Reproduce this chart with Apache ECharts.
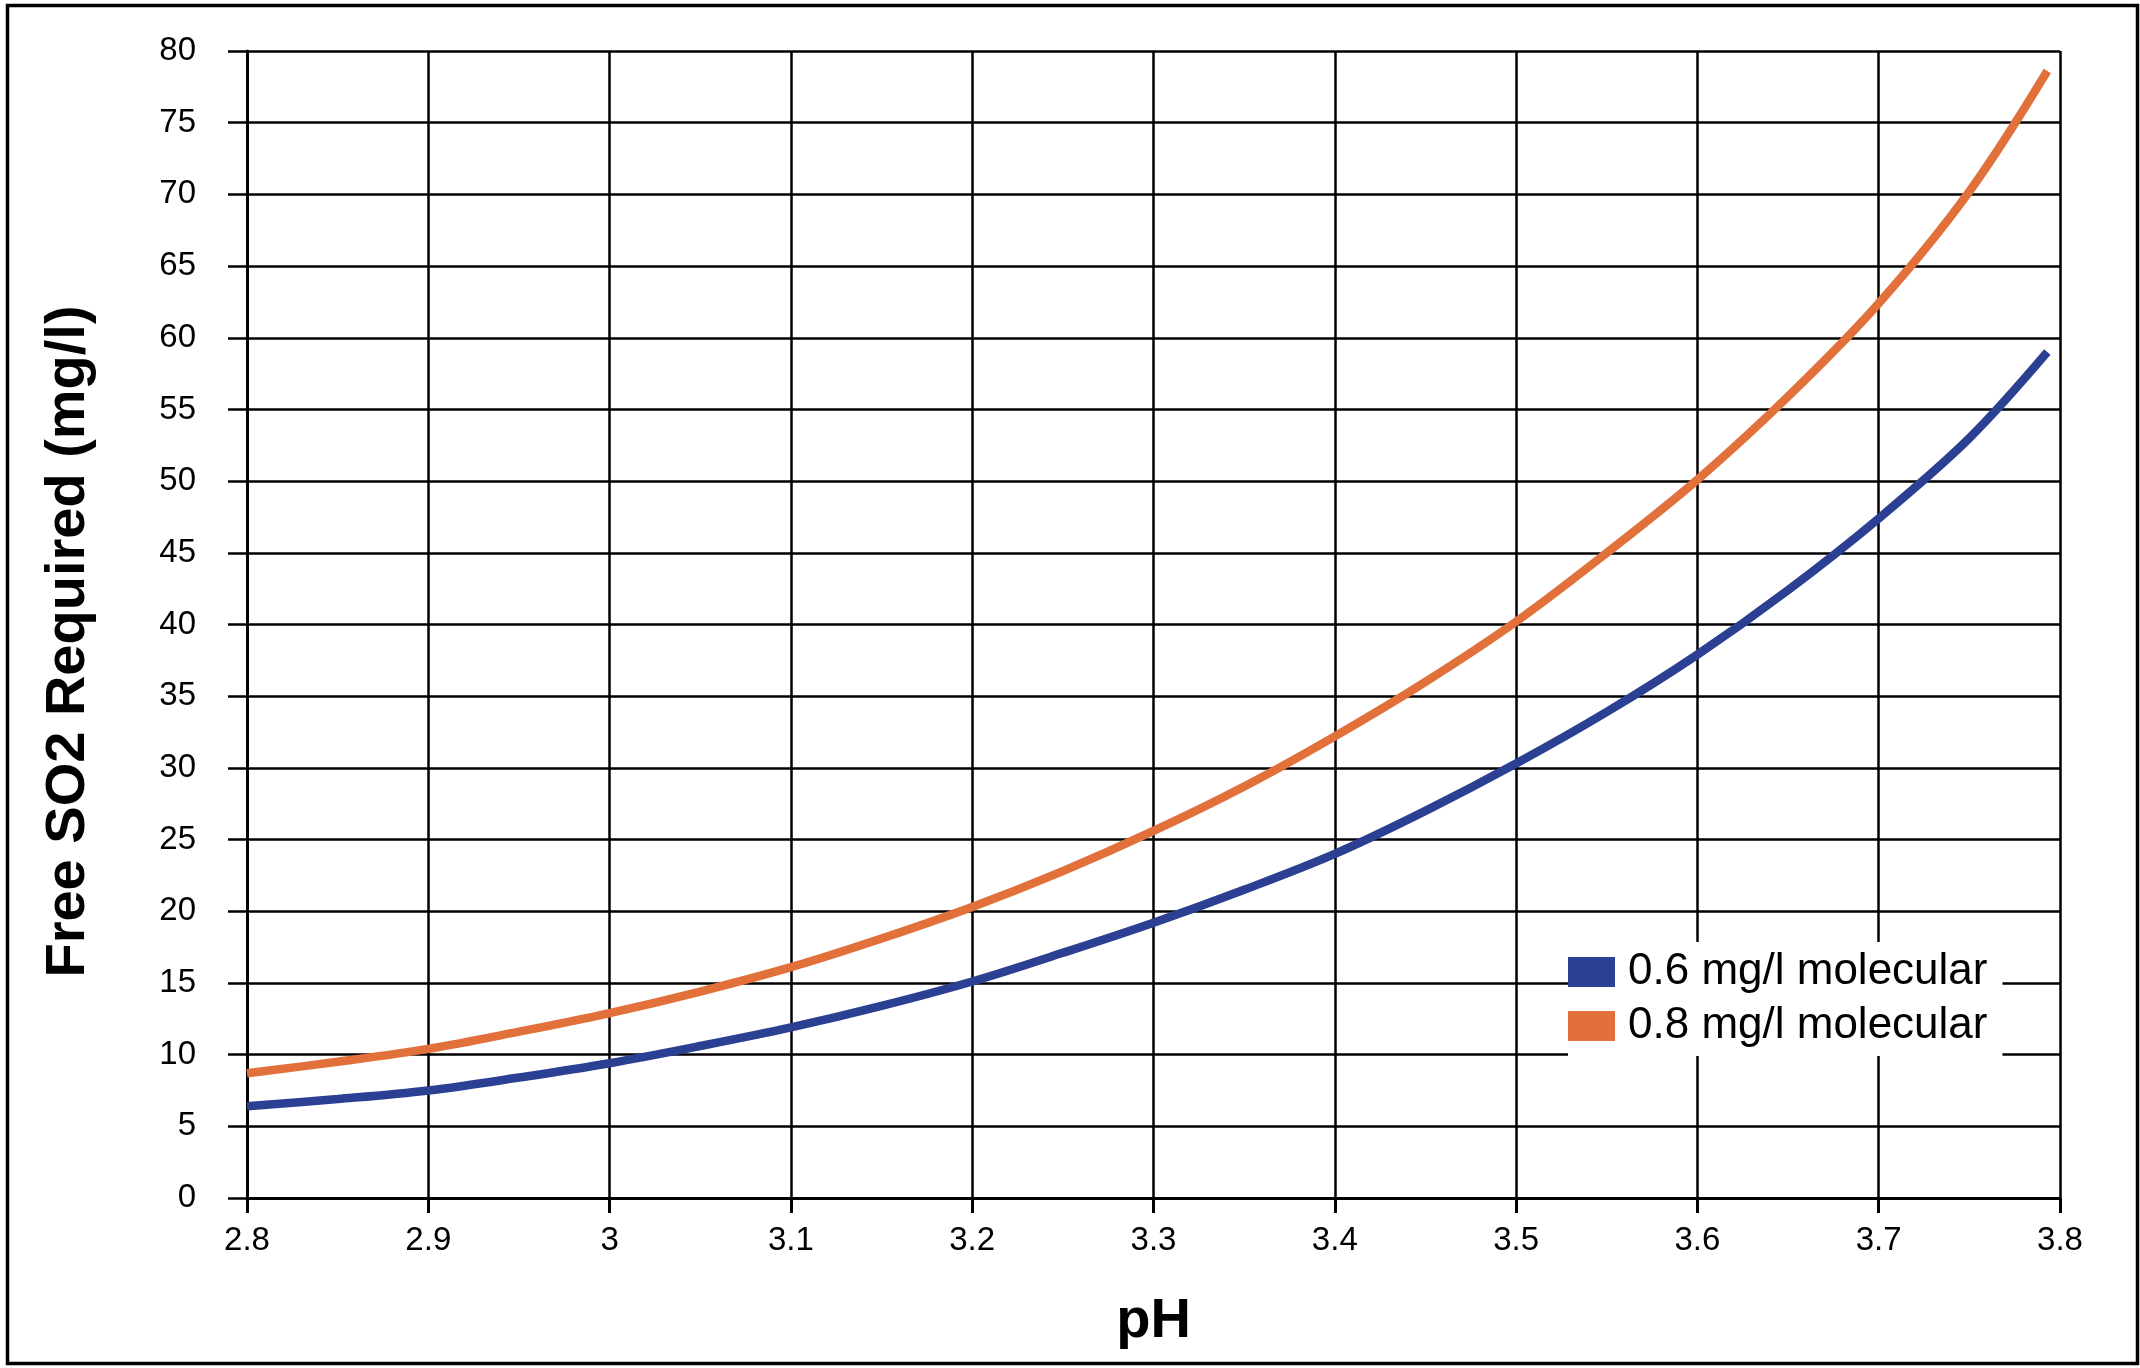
<!DOCTYPE html>
<html>
<head>
<meta charset="utf-8">
<script src="https://cdn.jsdelivr.net/npm/echarts@6/dist/echarts.min.js"></script>
<style>
html,body{margin:0;padding:0;background:#fff;}
#chart{width:2140px;height:1368px;}
</style>
</head>
<body>
<div id="chart"></div>
<script>
// pH values (x)
const phValues = [2.8, 2.85, 2.9, 2.95, 3.0, 3.05, 3.1, 3.15, 3.2, 3.25, 3.3, 3.35, 3.4, 3.45, 3.5, 3.55, 3.6, 3.65, 3.7, 3.75, 3.793];
// Free SO2 required (mg/l) for 0.6 mg/l molecular
const so2Molecular06 = [6.4, 6.9, 7.5, 8.4, 9.4, 10.6, 11.9, 13.4, 15.1, 17.1, 19.2, 21.5, 24.0, 27.0, 30.3, 33.9, 37.9, 42.4, 47.4, 53.0, 59.0];
// Free SO2 required (mg/l) for 0.8 mg/l molecular
const so2Molecular08 = [8.7, 9.5, 10.4, 11.6, 12.9, 14.4, 16.1, 18.1, 20.3, 22.8, 25.6, 28.7, 32.2, 36.0, 40.2, 45.0, 50.1, 55.9, 62.4, 70.2, 78.6];
const seriesNames = ['0.6 mg/l molecular', '0.8 mg/l molecular'];
const xAxisTitle = 'pH';
const yAxisTitle = 'Free SO2 Required (mg/l)';

const FONT = '"Liberation Sans", Arial, Helvetica, sans-serif';
const chart = echarts.init(document.getElementById('chart'), null, {renderer: 'canvas'});

function pairs(xs, ys) { return xs.map((x, i) => [x, ys[i]]); }

const option = {
  backgroundColor: '#ffffff',
  animation: false,
  textStyle: {fontFamily: FONT, color: '#000'},
  graphic: [{
    type: 'rect',
    left: 5, top: 3,
    shape: {width: 2130, height: 1358},
    style: {fill: 'none', stroke: '#000', lineWidth: 3.5},
    z: 100
  }],
  grid: {left: 247, right: 80, top: 51, bottom: 170, containLabel: false},
  legend: {
    orient: 'vertical',
    left: 1568, top: 942,
    itemWidth: 47, itemHeight: 30, itemGap: 10,
    icon: 'rect',
    backgroundColor: '#ffffff',
    padding: [8, 15, 8, 0],
    textStyle: {fontFamily: FONT, fontSize: 44, color: '#000', padding: [0, 0, 0, 8]},
    data: seriesNames
  },
  xAxis: {
    type: 'value',
    min: 2.8, max: 3.8, interval: 0.1,
    name: xAxisTitle,
    nameLocation: 'middle',
    nameGap: 96,
    nameTextStyle: {fontFamily: FONT, fontSize: 56, fontWeight: 'bold', color: '#000'},
    axisLine: {show: true, onZero: false, lineStyle: {color: '#000', width: 3}},
    axisTick: {show: true, inside: false, length: 15, lineStyle: {color: '#000', width: 3}},
    axisLabel: {fontFamily: FONT, fontSize: 33, color: '#000', margin: 26},
    splitLine: {show: true, lineStyle: {color: '#000', width: 2.5}}
  },
  yAxis: {
    type: 'value',
    min: 0, max: 80, interval: 5,
    name: yAxisTitle,
    nameLocation: 'middle',
    nameRotate: 90,
    nameGap: 150,
    nameTextStyle: {fontFamily: FONT, fontSize: 56, fontWeight: 'bold', color: '#000', padding: [0, 34, 0, 0]},
    axisLine: {show: true, lineStyle: {color: '#000', width: 3}},
    axisTick: {show: true, inside: false, length: 19, lineStyle: {color: '#000', width: 2.5}},
    axisLabel: {fontFamily: FONT, fontSize: 33, color: '#000', margin: 51},
    splitLine: {show: true, lineStyle: {color: '#000', width: 2.5}}
  },
  series: [
    {
      name: seriesNames[0],
      type: 'line',
      data: pairs(phValues, so2Molecular06),
      smooth: 0.35,
      showSymbol: false,
      color: '#2B3F93',
      lineStyle: {color: '#2B3F93', width: 8.5},
      z: 3
    },
    {
      name: seriesNames[1],
      type: 'line',
      data: pairs(phValues, so2Molecular08),
      smooth: 0.35,
      showSymbol: false,
      color: '#E2703A',
      lineStyle: {color: '#E2703A', width: 8.5},
      z: 3
    }
  ]
};
chart.setOption(option);
</script>
</body>
</html>
